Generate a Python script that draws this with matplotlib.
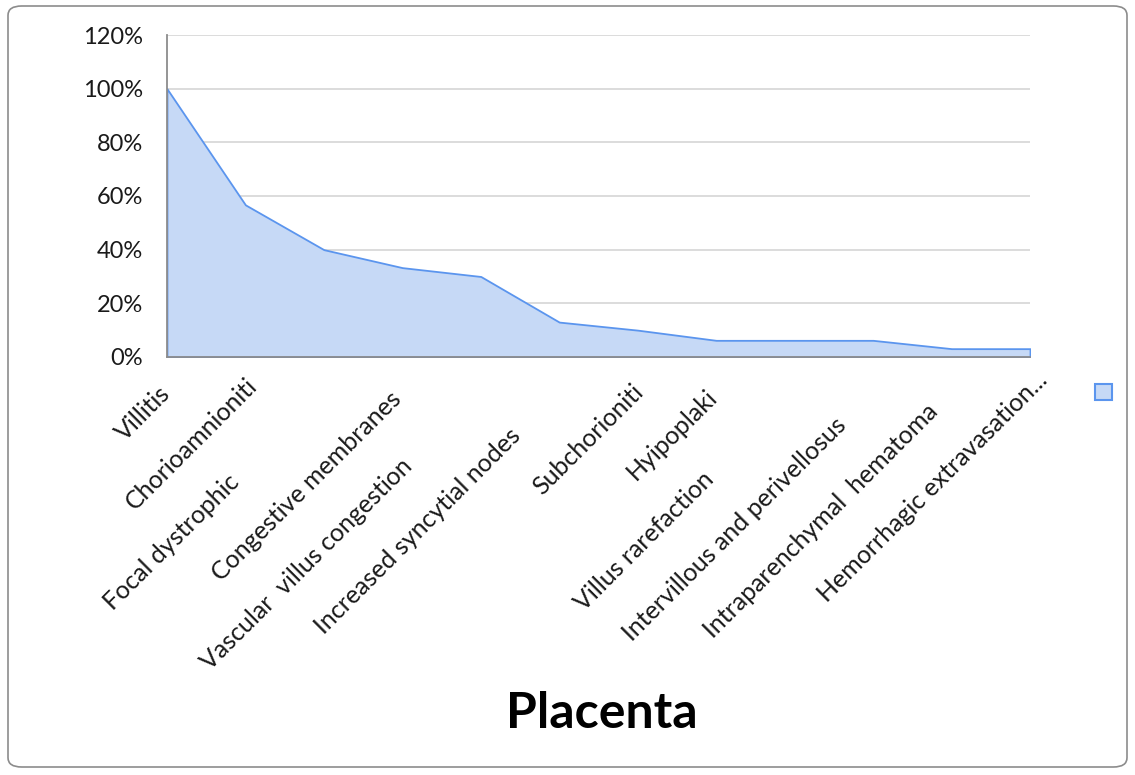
import matplotlib.pyplot as plt
import matplotlib.transforms as mtransforms
from matplotlib.patches import FancyBboxPatch, Rectangle
from matplotlib.ticker import PercentFormatter
import numpy as np

categories = ['Villitis', 'Chorioamnioniti', 'Focal dystrophic', 'Congestive membranes',
              'Vascular  villus congestion', 'Increased syncytial nodes', 'Subchorioniti',
              'Hyipoplaki', 'Villus rarefaction', 'Intervillous and perivellosus',
              'Intraparenchymal  hematoma', 'Hemorrhagic extravasation...']
values = [1.0, 0.567, 0.40, 0.333, 0.30, 0.13, 0.10, 0.062, 0.062, 0.062, 0.031, 0.031]
yticks = [0, 0.2, 0.4, 0.6, 0.8, 1.0, 1.2]

# how far each rotated label slides down-left along its own direction (px),
# the way the spreadsheet staggered them
label_shift_px = [0, -8, 88, 5, 72, 42, -2, 3, 85, 31, 17, -14]

plt.rcParams['font.family'] = ['Lato', 'DejaVu Sans']

fill_col = '#c6d9f6'
line_col = '#5b95ee'

fig = plt.figure(figsize=(11.35, 7.75), dpi=100)
ax = fig.add_axes([0.1471, 0.5394, 0.9075 - 0.1471, 0.9548 - 0.5394])

x = np.arange(len(categories))
ax.fill_between(x, values, 0, facecolor=fill_col, edgecolor=line_col, linewidth=1.3, zorder=2)

ax.set_xlim(0, len(categories) - 1)
ax.set_ylim(0, 1.2)
ax.set_yticks(yticks)
ax.yaxis.set_major_formatter(PercentFormatter(1.0, decimals=0))
ax.grid(axis='y', color='#d9d9d9', linewidth=1.3, zorder=1)
ax.set_axisbelow(True)

for s in ['top', 'right']:
    ax.spines[s].set_visible(False)
for s in ['left', 'bottom']:
    ax.spines[s].set_color('#8c8c8c')
    ax.spines[s].set_linewidth(1.3)
    ax.spines[s].set_zorder(3)

ax.tick_params(axis='y', length=0, pad=17, labelsize=17, labelcolor='#1a1a1a')
ax.set_xticks(x)
ax.set_xticklabels(categories, rotation=45, ha='right', va='center',
                   rotation_mode='anchor', fontsize=18, color='#1a1a1a')
ax.tick_params(axis='x', length=0, pad=24)
for lbl, a in zip(ax.get_xticklabels(), label_shift_px):
    off = mtransforms.ScaledTranslation(-a / 100, -a / 100, fig.dpi_scale_trans)
    lbl.set_transform(lbl.get_transform() + off)

# legend marker with no text
fig.patches.append(Rectangle((1095 / 1135, 1 - 400 / 775), 17 / 1135, 16 / 775,
                             transform=fig.transFigure, facecolor=fill_col,
                             edgecolor=line_col, linewidth=1.5))

fig.text(0.53, 1 - 713 / 775, 'Placenta', ha='center', va='center',
         fontsize=36, fontweight='bold', color='black')

# rounded chart border
fig.patches.append(FancyBboxPatch((8 / 1135, 8 / 775), 1 - 16 / 1135, 1 - 14 / 775,
                                  boxstyle='round,pad=0,rounding_size=0.012',
                                  transform=fig.transFigure, facecolor='none',
                                  edgecolor='#8c8c8c', linewidth=1.2))

fig.savefig('out.png', dpi=100)
